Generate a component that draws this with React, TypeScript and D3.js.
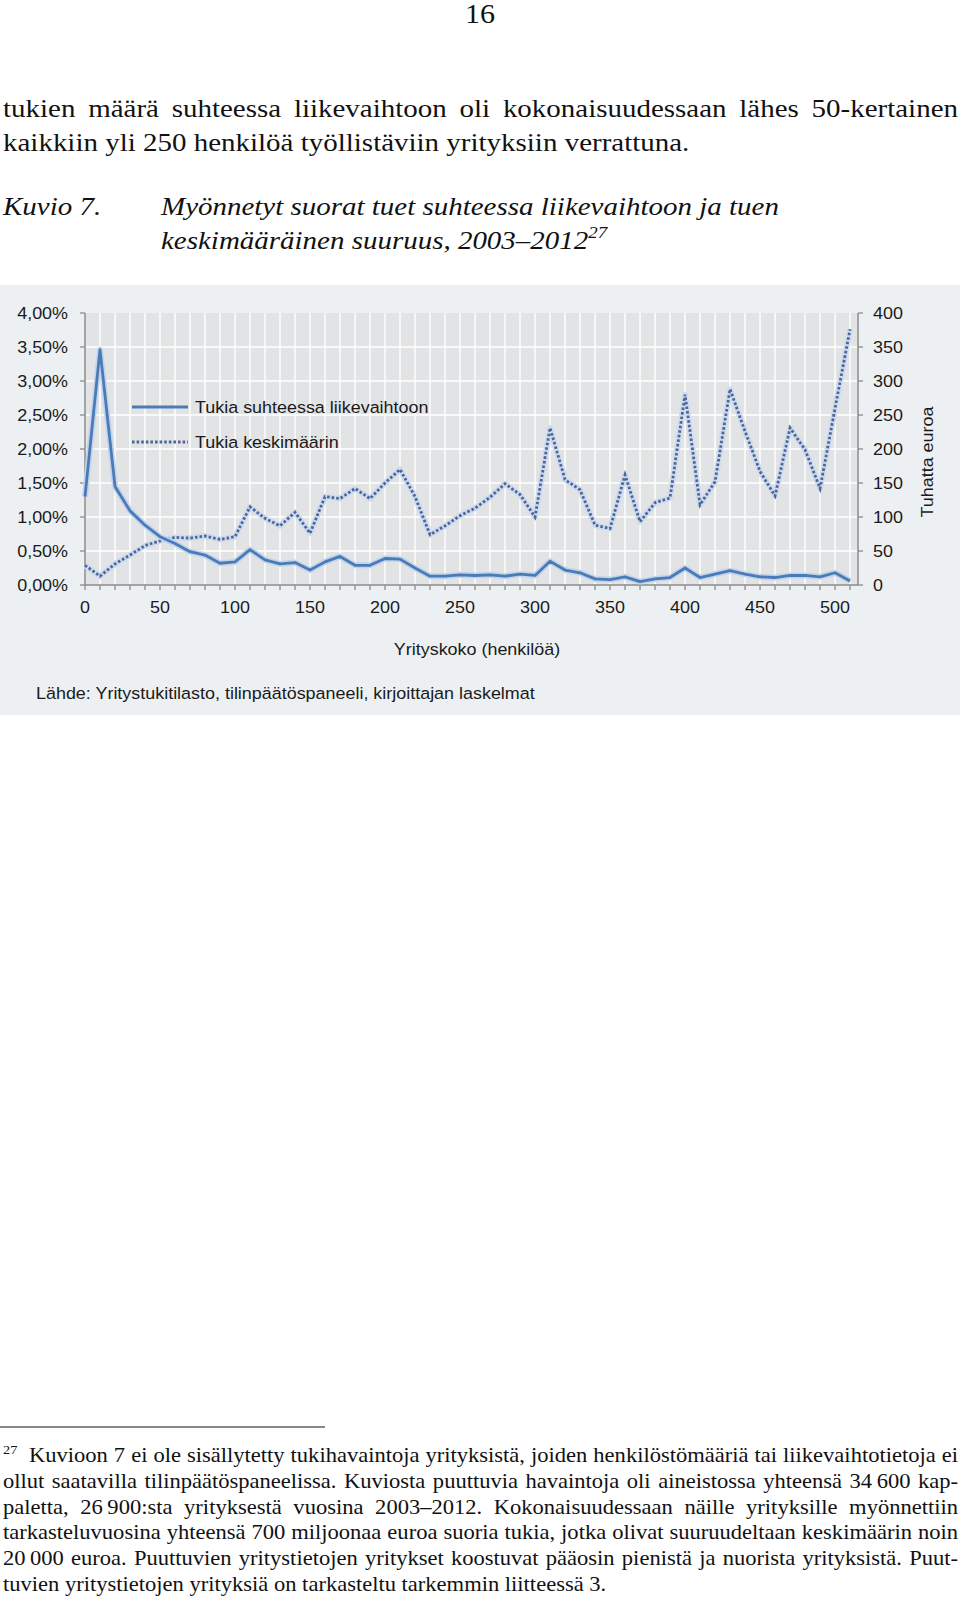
import React, { useEffect, useRef } from "react";
import * as d3 from "d3";

// ---- DATA ----
const companySize = [0, 10, 20, 30, 40, 50, 60, 70, 80, 90, 100, 110, 120, 130, 140, 150, 160, 170, 180, 190, 200, 210, 220, 230, 240, 250, 260, 270, 280, 290, 300, 310, 320, 330, 340, 350, 360, 370, 380, 390, 400, 410, 420, 430, 440, 450, 460, 470, 480, 490, 500, 510];
// Tukia suhteessa liikevaihtoon (%)
const supportToTurnover = [1.30, 3.46, 1.45, 1.09, 0.88, 0.71, 0.61, 0.49, 0.44, 0.32, 0.34, 0.52, 0.37, 0.31, 0.33, 0.22, 0.34, 0.42, 0.29, 0.29, 0.39, 0.38, 0.25, 0.13, 0.13, 0.15, 0.14, 0.15, 0.13, 0.16, 0.14, 0.35, 0.22, 0.18, 0.09, 0.08, 0.12, 0.05, 0.09, 0.11, 0.25, 0.11, 0.16, 0.21, 0.16, 0.12, 0.11, 0.14, 0.14, 0.12, 0.18, 0.06];
// Tukia keskimäärin (tuhatta euroa)
const averageSupport = [29, 13, 31, 44, 58, 65, 70, 69, 72, 67, 71, 115, 98, 87, 107, 76, 130, 127, 142, 127, 150, 170, 130, 74, 87, 102, 113, 129, 149, 133, 100, 231, 155, 140, 88, 83, 162, 93, 121, 128, 280, 118, 152, 288, 226, 167, 131, 231, 199, 142, 260, 376];

const leftTicks = [0, 0.5, 1, 1.5, 2, 2.5, 3, 3.5, 4];
const rightTicks = [0, 50, 100, 150, 200, 250, 300, 350, 400];
const xLabelTicks = [0, 50, 100, 150, 200, 250, 300, 350, 400, 450, 500];

const seriesNames = ["Tukia suhteessa liikevaihtoon", "Tukia keskimäärin"];
const xTitle = "Yrityskoko (henkilöä)";
const yRightTitle = "Tuhatta euroa";
const sourceText = "Lähde: Yritystukitilasto, tilinpäätöspaneeli, kirjoittajan laskelmat";

const bodyLines = [
  "tukien määrä suhteessa liikevaihtoon oli kokonaisuudessaan lähes 50-kertainen",
  "kaikkiin yli 250 henkilöä työllistäviin yrityksiin verrattuna.",
];
const footLines = [
  "Kuvioon 7 ei ole sisällytetty tukihavaintoja yrityksistä, joiden henkilöstömääriä tai liikevaihtotietoja ei",
  "ollut saatavilla tilinpäätöspaneelissa. Kuviosta puuttuvia havaintoja oli aineistossa yhteensä 34\u2009600 kap-",
  "paletta, 26\u2009900:sta yrityksestä vuosina 2003–2012. Kokonaisuudessaan näille yrityksille myönnettiin",
  "tarkasteluvuosina yhteensä 700 miljoonaa euroa suoria tukia, jotka olivat suuruudeltaan keskimäärin noin",
  "20\u2009000 euroa. Puuttuvien yritystietojen yritykset koostuvat pääosin pienistä ja nuorista yrityksistä. Puut-",
  "tuvien yritystietojen yrityksiä on tarkasteltu tarkemmin liitteessä 3.",
];

const fiLocale = d3.formatLocale({ decimal: ",", thousands: "\u00A0", grouping: [3], currency: ["", "€"] });
const fmtPct = (v: number) => fiLocale.format(".2f")(v) + "%";

const SANS = "'Liberation Sans', Arial, Helvetica, sans-serif";
const SERIF = "'Liberation Serif', 'Times New Roman', serif";
const SERIF_SX = 1.115;
const FOOT_SX = 1.1;
const SANS_SX = 1.1;
const SANS_SIZE = 16.3;

function T(props: any) {
  const { x, y, sx, children, justify, ...rest } = props;
  const extra: any = {};
  if (justify) extra["data-justify"] = justify / sx;
  return (
    <text transform={`translate(${x},${y}) scale(${sx},1)`} {...extra} {...rest}>
      {children}
    </text>
  );
}

export default function App() {
  const ref = useRef<SVGSVGElement>(null);

  const x = d3.scaleLinear().domain([0, 515.3]).range([85, 858]);
  const yL = d3.scaleLinear().domain([0, 4]).range([585, 313]);
  const yR = d3.scaleLinear().domain([0, 400]).range([585, 313]);

  const lineL = d3.line<number>().x((_, i) => x(companySize[i])).y((d) => yL(d));
  const lineR = d3.line<number>().x((_, i) => x(companySize[i])).y((d) => yR(d));

  useEffect(() => {
    const svg = ref.current;
    if (!svg) return;
    const run = () => {
      svg.querySelectorAll("text[data-justify]").forEach((el: any) => {
        const target = +el.getAttribute("data-justify");
        el.style.wordSpacing = "0px";
        const w = el.getComputedTextLength();
        const n = (el.textContent.match(/[ \u00A0]/g) || []).length;
        if (n > 0) el.style.wordSpacing = `${(target - w) / n}px`;
      });
    };
    run();
    if ((document as any).fonts && (document as any).fonts.ready) {
      (document as any).fonts.ready.then(run);
    }
  }, []);

  const gridX = companySize.filter((v) => v > 0);
  const gridY = leftTicks.filter((v) => v > 0 && v < 4);
  const serif = { fontFamily: SERIF, fill: "#111" };
  const sans = { fontFamily: SANS, fontSize: SANS_SIZE, fill: "#1a1a1a" };

  return (
    <svg
      ref={ref}
      width={960}
      height={1598}
      style={{ position: "absolute", left: 0, top: 0, background: "#fff" }}
    >
      <rect x={0} y={0} width={960} height={1598} fill="#fff" />
      {/* page number */}
      <T x={480} y={23} sx={SERIF_SX} textAnchor="middle" fontSize={27} {...serif}>16</T>

      {/* body text */}
      <T x={3} y={117} sx={SERIF_SX} fontSize={26} {...serif} justify={955}>{bodyLines[0]}</T>
      <T x={3} y={151} sx={SERIF_SX} fontSize={26} {...serif}>{bodyLines[1]}</T>

      {/* caption */}
      <T x={3} y={215} sx={SERIF_SX} fontSize={26} fontStyle="italic" {...serif}>Kuvio 7.</T>
      <T x={161} y={215} sx={SERIF_SX} fontSize={26} fontStyle="italic" {...serif}>Myönnetyt suorat tuet suhteessa liikevaihtoon ja tuen</T>
      <T x={161} y={249} sx={SERIF_SX} fontSize={26} fontStyle="italic" {...serif}>
        keskimääräinen suuruus, 2003–2012
        <tspan dy={-11} fontSize={17}>27</tspan>
      </T>

      {/* chart panel */}
      <rect x={0} y={285} width={960} height={430} fill="#edf0f3" />
      <rect x={85} y={313} width={773} height={272} fill="#e2e3e5" />
      {gridX.map((v) => (
        <line key={"gx" + v} x1={x(v)} x2={x(v)} y1={313} y2={585} stroke="#fff" strokeWidth={1.4} />
      ))}
      {gridY.map((v) => (
        <line key={"gy" + v} x1={85} x2={858} y1={yL(v)} y2={yL(v)} stroke="#fff" strokeWidth={1.4} />
      ))}

      {/* axes */}
      <line x1={85} x2={85} y1={313} y2={585} stroke="#8c8c8c" strokeWidth={1.5} />
      <line x1={858} x2={858} y1={313} y2={585} stroke="#8c8c8c" strokeWidth={1.5} />
      <line x1={85} x2={858} y1={585} y2={585} stroke="#8c8c8c" strokeWidth={1.5} />
      {leftTicks.map((v) => (
        <g key={"lt" + v}>
          <line x1={80} x2={85} y1={yL(v)} y2={yL(v)} stroke="#8c8c8c" strokeWidth={1.3} />
          <T x={68} y={yL(v)} sx={SANS_SX} dy="0.35em" textAnchor="end" {...sans}>{fmtPct(v)}</T>
        </g>
      ))}
      {rightTicks.map((v) => (
        <g key={"rt" + v}>
          <line x1={858} x2={863} y1={yR(v)} y2={yR(v)} stroke="#8c8c8c" strokeWidth={1.3} />
          <T x={873} y={yR(v)} sx={SANS_SX} dy="0.35em" textAnchor="start" {...sans}>{v}</T>
        </g>
      ))}
      {companySize.map((v) => (
        <line key={"xt" + v} x1={x(v)} x2={x(v)} y1={585} y2={590} stroke="#8c8c8c" strokeWidth={1.3} />
      ))}
      {xLabelTicks.map((v) => (
        <T key={"xl" + v} x={x(v)} y={613} sx={SANS_SX} textAnchor="middle" {...sans}>{v}</T>
      ))}
      <T x={477} y={655} sx={SANS_SX} textAnchor="middle" {...sans}>{xTitle}</T>
      <text transform="translate(933,462) rotate(-90) scale(1.1,1)" textAnchor="middle" {...sans}>{yRightTitle}</text>
      <T x={36} y={699} sx={SANS_SX} {...sans}>{sourceText}</T>

      {/* series */}
      <path d={lineR(averageSupport) || ""} fill="none" stroke="#cfdbee" strokeWidth={6} strokeLinejoin="round" />
      <path d={lineR(averageSupport) || ""} fill="none" stroke="#4d6796" strokeWidth={2.8} strokeDasharray="2.6 2" />
      <path d={lineL(supportToTurnover) || ""} fill="none" stroke="#c3d3ea" strokeWidth={6} strokeLinejoin="round" />
      <path d={lineL(supportToTurnover) || ""} fill="none" stroke="#4a7bb9" strokeWidth={2.8} strokeLinejoin="round" />

      {/* legend */}
      <line x1={132} x2={188} y1={407} y2={407} stroke="#4a7bb9" strokeWidth={2.8} />
      <T x={195} y={407} sx={SANS_SX} dy="0.35em" {...sans}>{seriesNames[0]}</T>
      <line x1={132} x2={188} y1={442} y2={442} stroke="#4d6796" strokeWidth={2.8} strokeDasharray="2.6 2" />
      <T x={195} y={442} sx={SANS_SX} dy="0.35em" {...sans}>{seriesNames[1]}</T>

      {/* footnote */}
      <line x1={0} x2={325} y1={1427} y2={1427} stroke="#111" strokeWidth={1.2} />
      <T x={3} y={1454} sx={FOOT_SX} fontSize={13} {...serif}>27</T>
      {footLines.map((t, i) => (
        <T
          key={"fl" + i}
          x={i === 0 ? 29 : 3}
          y={1462 + i * 25.8}
          sx={FOOT_SX}
          fontSize={20.5}
          {...serif}
          justify={i < footLines.length - 1 ? (i === 0 ? 929 : 955) : undefined}
        >
          {t}
        </T>
      ))}
    </svg>
  );
}
